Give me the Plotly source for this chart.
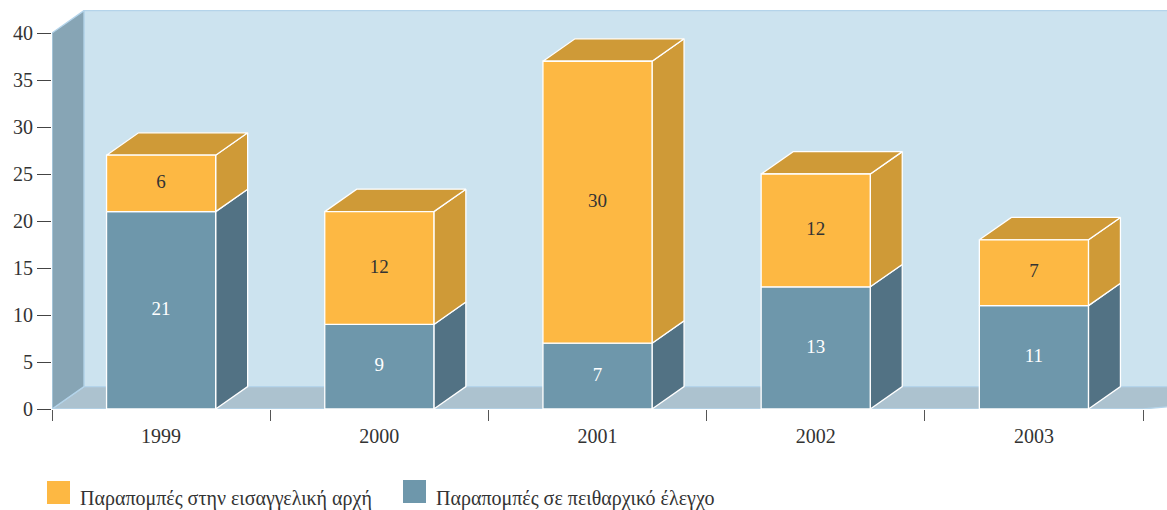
import plotly.graph_objects as go

years = ["1999", "2000", "2001", "2002", "2003"]
discipline = [21, 9, 7, 13, 11]
prosecutor = [6, 12, 30, 12, 7]
y_ticks = [0, 5, 10, 15, 20, 25, 30, 35, 40]
legend_labels = ["Παραπομπές στην εισαγγελική αρχή", "Παραπομπές σε πειθαρχικό έλεγχο"]

W, H = 1167, 510
ML, MR, MT, MB = 52, 0, 10, 101
X_MIN, X_MAX = -0.5, 4.61
Y_MIN, Y_MAX = 0, 42.45
DX = 32 / 218.2
DY = 22.4 / 9.4
HALF = 0.25
FONT = "Liberation Serif"
EDGE = "#FFFFFF"
WALL_EDGE = "#B4D4EA"

fig = go.Figure()


def poly(xs, ys, fill, line=EDGE, width=1.3):
    fig.add_trace(go.Scatter(
        x=xs + xs[:1], y=ys + ys[:1], mode="lines", fill="toself", fillcolor=fill,
        line=dict(color=line, width=width), hoverinfo="skip", showlegend=False, cliponaxis=True,
    ))


y_top = y_ticks[-1]
# back wall, floor, left wall
poly([X_MIN + DX, X_MAX + 1, X_MAX + 1, X_MIN + DX], [DY, DY, y_top + DY, y_top + DY], "#CCE3EF", WALL_EDGE)
poly([X_MIN, X_MIN + DX, X_MAX + 1, 4.5], [0, DY, DY, 0], "#ACC2CF", WALL_EDGE)
poly([X_MIN, X_MIN + DX, X_MIN + DX, X_MIN], [0, DY, y_top + DY, y_top], "#87A5B5", WALL_EDGE)


def box(i, y0, y1, front, dark, top):
    l, r = i - HALF, i + HALF
    poly([r, r + DX, r + DX, r], [y0, y0 + DY, y1 + DY, y1], dark)
    if top:
        poly([l, r, r + DX, l + DX], [y1, y1, y1 + DY, y1 + DY], dark)
    poly([l, r, r, l], [y0, y0, y1, y1], front)


for i in range(len(years)):
    box(i, 0, discipline[i], "#6E97AB", "#527284", False)
    box(i, discipline[i], discipline[i] + prosecutor[i], "#FDB843", "#CF9A37", True)

xs = list(range(len(years)))
fig.add_trace(go.Scatter(
    x=xs, y=[d / 2 for d in discipline], mode="text", text=[str(v) for v in discipline],
    textposition="middle center", textfont=dict(family=FONT, size=19, color="#FFFFFF"),
    hoverinfo="skip", showlegend=False,
))
fig.add_trace(go.Scatter(
    x=xs, y=[d + p / 2 for d, p in zip(discipline, prosecutor)], mode="text", text=[str(v) for v in prosecutor],
    textposition="middle center", textfont=dict(family=FONT, size=19, color="#333333"),
    hoverinfo="skip", showlegend=False,
))

plot_w, plot_h = W - ML - MR, H - MT - MB
px = lambda v: (v - ML) / plot_w
py = lambda v: (H - MB - v) / plot_h

shapes, annotations = [], []
for label, color, sx, sy, tx in [
    (legend_labels[0], "#FDB843", 47, 481, 78),
    (legend_labels[1], "#6E97AB", 403, 480, 434),
]:
    shapes.append(dict(type="rect", xref="paper", yref="paper", x0=px(sx), x1=px(sx + 23),
                       y0=py(sy + 23), y1=py(sy), fillcolor=color, line=dict(width=0), layer="above"))
    annotations.append(dict(xref="paper", yref="paper", x=px(tx), y=py(498), xanchor="left", yanchor="middle",
                            text=label, showarrow=False, font=dict(family=FONT, size=20, color="#333333")))

fig.update_layout(
    width=W, height=H, margin=dict(l=ML, r=MR, t=MT, b=MB), paper_bgcolor="#FFFFFF", plot_bgcolor="#FFFFFF",
    showlegend=False, shapes=shapes, annotations=annotations,
    font=dict(family=FONT, size=20, color="#333333"),
    xaxis=dict(range=[X_MIN, X_MAX], tickmode="array", tickvals=xs, ticktext=years, ticks="outside",
               ticklen=9, tickcolor="rgba(0,0,0,0)", showgrid=False, zeroline=False, showline=False,
               tickfont=dict(family=FONT, size=20, color="#333333"),
               minor=dict(tickmode="array", tickvals=[i - 0.5 for i in range(len(years) + 1)], ticks="outside",
                          ticklen=11, tickwidth=1, tickcolor="#555555", showgrid=False)),
    yaxis=dict(range=[Y_MIN, Y_MAX], tickmode="array", tickvals=y_ticks, ticks="outside", ticklen=14, tickwidth=1,
               tickcolor="#444444", showgrid=False, zeroline=False, showline=False,
               tickfont=dict(family=FONT, size=20, color="#333333")),
)

fig.write_html("out.html", config=dict(displayModeBar=False),
               post_script="document.body.style.margin='0';")
